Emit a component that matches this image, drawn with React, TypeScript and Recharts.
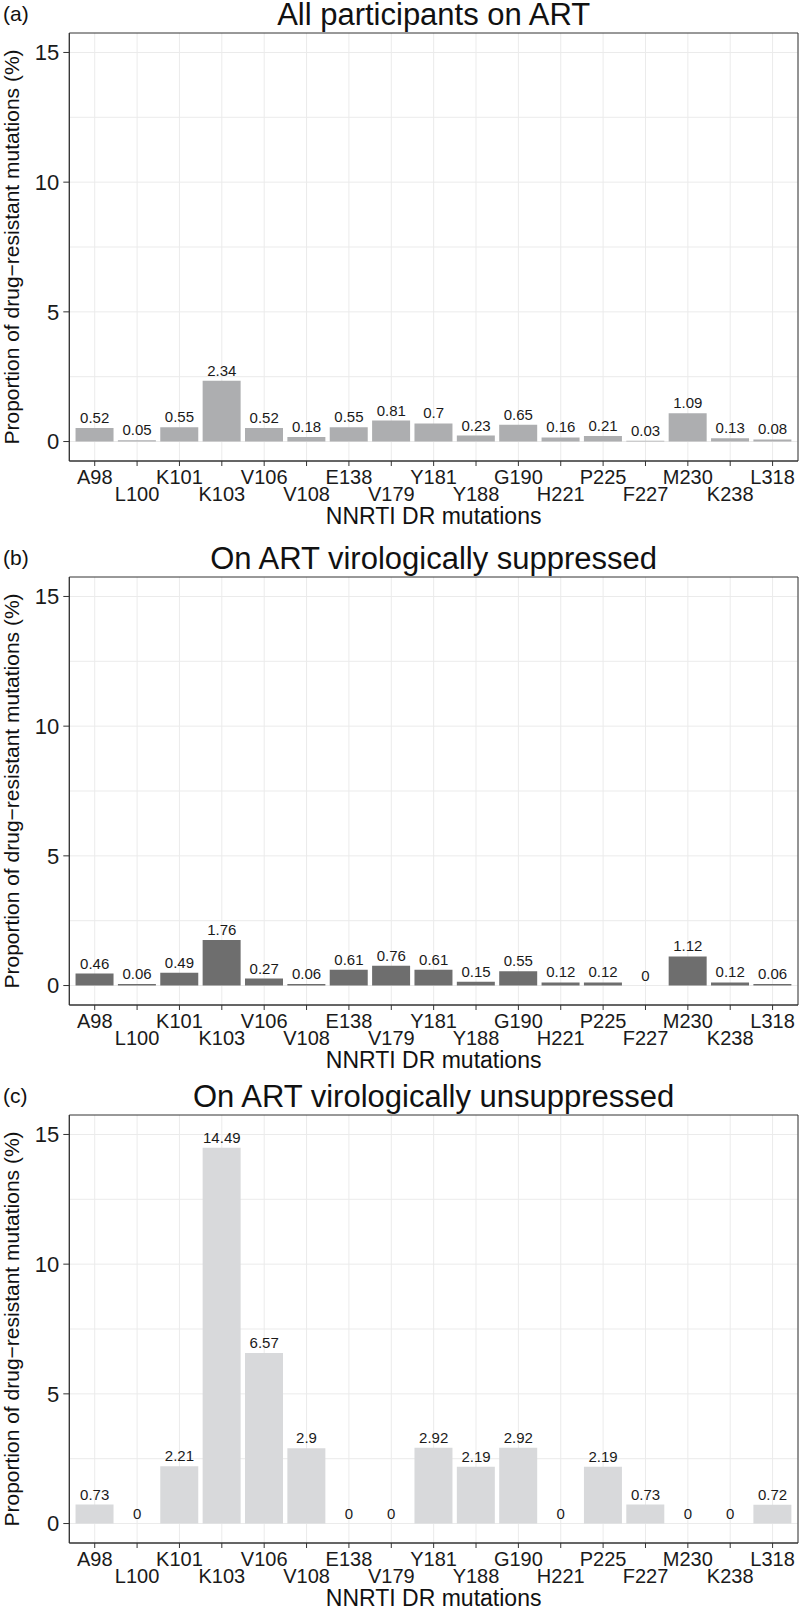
import React from 'react';
import {
  ComposedChart,
  Bar,
  Line,
  XAxis,
  YAxis,
  CartesianGrid,
  ReferenceArea,
  LabelList,
} from 'recharts';

const categories = [
  'A98', 'L100', 'K101', 'K103', 'V106', 'V108', 'E138', 'V179', 'Y181',
  'Y188', 'G190', 'H221', 'P225', 'F227', 'M230', 'K238', 'L318',
];

const allOnArt = [0.52, 0.05, 0.55, 2.34, 0.52, 0.18, 0.55, 0.81, 0.7, 0.23, 0.65, 0.16, 0.21, 0.03, 1.09, 0.13, 0.08];
const suppressed = [0.46, 0.06, 0.49, 1.76, 0.27, 0.06, 0.61, 0.76, 0.61, 0.15, 0.55, 0.12, 0.12, 0, 1.12, 0.12, 0.06];
const unsuppressed = [0.73, 0, 2.21, 14.49, 6.57, 2.9, 0, 0, 2.92, 2.19, 2.92, 0, 2.19, 0.73, 0, 0, 0.72];

const yTicks = [0, 5, 10, 15];
const yGrid = [0, 2.5, 5, 7.5, 10, 12.5, 15];

const panelTags = ['(a)', '(b)', '(c)'];
const panelTitles = [
  'All participants on ART',
  'On ART virologically suppressed',
  'On ART virologically unsuppressed',
];
const panelValues = [allOnArt, suppressed, unsuppressed];
const panelColors = ['#adaeb0', '#6e6e6e', '#d8d9db'];

const xAxisTitle = 'NNRTI DR mutations';
const yAxisTitle = 'Proportion of drug\u2212resistant mutations (%)';

const FONT = '"Liberation Sans", Arial, Helvetica, sans-serif';

// layout
const CHART_W = 800;
const MARGIN_TOP = 33;
const PLOT_H = 428;
const X_AXIS_H = 68;
const CHART_H = MARGIN_TOP + PLOT_H + X_AXIS_H;
const Y_AXIS_W = 69.3;
const MARGIN_RIGHT = 2;
const panelOffsets = [0, 544, 1082];
const PLOT_LEFT = Y_AXIS_W;
const PLOT_RIGHT = CHART_W - MARGIN_RIGHT;
const PLOT_CX = (PLOT_LEFT + PLOT_RIGHT) / 2;

const XDOMAIN: [number, number] = [-0.6, categories.length - 1 + 0.6];
const YDOMAIN: [number, number] = [-0.75, 15.75];

const XTick = (props: any) => {
  const { x, y, payload } = props;
  const i = Number(payload.value);
  const row = i % 2 === 0 ? 0 : 1;
  return (
    <text
      x={x}
      y={y + (row === 0 ? 18 : 34.5)}
      textAnchor="middle"
      fontSize={20}
      fontFamily={FONT}
      fill="#1a1a1a"
    >
      {categories[i]}
    </text>
  );
};

function Panel({ values, color }: { values: number[]; color: string }) {
  const data = categories.map((c, i) => ({ idx: i, name: c, v: values[i] }));
  return (
    <ComposedChart
      width={CHART_W}
      height={CHART_H}
      data={data}
      margin={{ top: MARGIN_TOP, right: MARGIN_RIGHT, bottom: 0, left: 0 }}
      style={{ fontFamily: FONT }}
    >
      <CartesianGrid stroke="#ebebeb" strokeWidth={1} horizontalValues={yGrid} />
      <XAxis
        dataKey="idx"
        type="number"
        domain={XDOMAIN}
        ticks={categories.map((_, i) => i)}
        interval={0}
        allowDataOverflow
        tickSize={5}
        tickMargin={0}
        tick={<XTick />}
        axisLine={{ stroke: '#333333' }}
        tickLine={{ stroke: '#333333' }}
        height={X_AXIS_H}
      />
      <YAxis
        type="number"
        domain={YDOMAIN}
        ticks={yTicks}
        allowDataOverflow
        width={Y_AXIS_W}
        tickSize={6}
        tickMargin={4}
        tick={{ fontSize: 22, fill: '#1a1a1a', fontFamily: FONT }}
        axisLine={{ stroke: '#333333' }}
        tickLine={{ stroke: '#333333' }}
      />
      <ReferenceArea
        x1={XDOMAIN[0]}
        x2={XDOMAIN[1]}
        y1={YDOMAIN[0]}
        y2={YDOMAIN[1]}
        fill="none"
        fillOpacity={0}
        stroke="#333333"
        strokeWidth={1}
        ifOverflow="visible"
      />
      <Bar dataKey="v" fill={color} barSize={38} isAnimationActive={false} />
      <Line
        dataKey="v"
        stroke="none"
        dot={false}
        activeDot={false}
        legendType="none"
        isAnimationActive={false}
      >
        <LabelList
          dataKey="v"
          position="top"
          offset={5}
          fontSize={15}
          fill="#1a1a1a"
          fontFamily={FONT}
        />
      </Line>
    </ComposedChart>
  );
}

export default function App() {
  return (
    <div
      style={{
        position: 'absolute',
        left: 0,
        top: 0,
        width: 800,
        height: 1611,
        overflow: 'hidden',
        background: '#ffffff',
      }}
    >
      {panelValues.map((vals, p) => (
        <div
          key={p}
          style={{ position: 'absolute', left: 0, top: panelOffsets[p], width: CHART_W, height: CHART_H }}
        >
          <Panel values={vals} color={panelColors[p]} />
        </div>
      ))}
      <svg
        width={800}
        height={1611}
        style={{ position: 'absolute', left: 0, top: 0, pointerEvents: 'none' }}
      >
        {panelOffsets.map((off, p) => {
          const top = off + MARGIN_TOP;
          const bottom = top + PLOT_H;
          const cy = (top + bottom) / 2;
          return (
            <g key={p} fontFamily={FONT} fill="#111111">
              <text x={3} y={top - 12} fontSize={21}>
                {panelTags[p]}
              </text>
              <text x={PLOT_CX} y={top - 8} fontSize={31} textAnchor="middle">
                {panelTitles[p]}
              </text>
              <text x={PLOT_CX} y={bottom + 63} fontSize={23} textAnchor="middle">
                {xAxisTitle}
              </text>
              <text
                x={0}
                y={0}
                fontSize={21}
                textAnchor="middle"
                transform={`translate(19, ${cy}) rotate(-90)`}
              >
                {yAxisTitle}
              </text>
            </g>
          );
        })}
      </svg>
    </div>
  );
}
